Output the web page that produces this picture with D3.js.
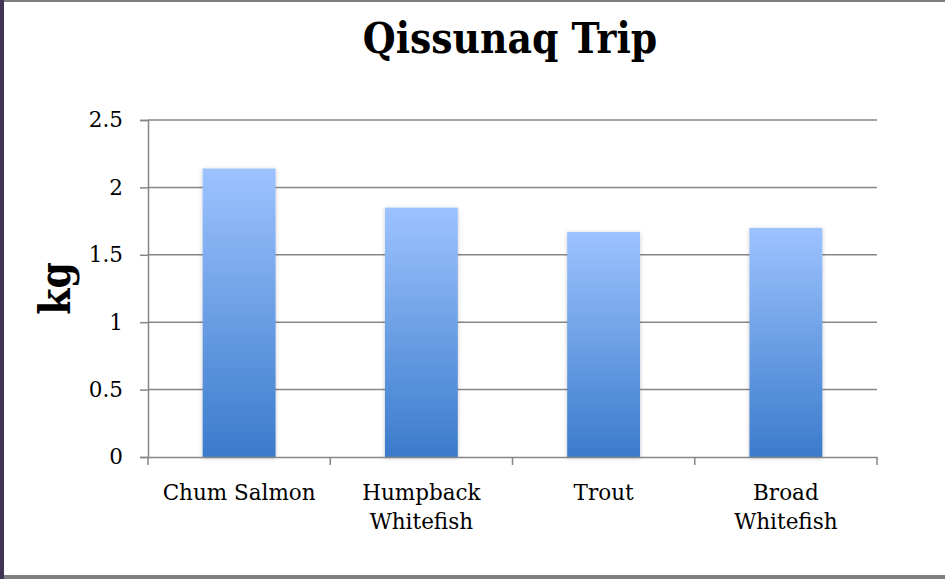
<!DOCTYPE html>
<html>
<head>
<meta charset="utf-8">
<script src="https://cdn.jsdelivr.net/npm/d3@7"></script>
<style>
  html, body { margin: 0; padding: 0; background: #fff; }
  svg { display: block; }
</style>
</head>
<body>
<svg id="chart" width="945" height="579"></svg>
<script>
// chart data
const categories = ["Chum Salmon", "Humpback Whitefish", "Trout", "Broad Whitefish"];
const catLines = [["Chum Salmon"], ["Humpback", "Whitefish"], ["Trout"], ["Broad", "Whitefish"]];
const values = [2.14, 1.85, 1.67, 1.70];
const yTicks = [0, 0.5, 1, 1.5, 2, 2.5];

const W = 945, H = 579;
const margin = { top: 120, left: 148, right: 68, bottom: 121 };
const svg = d3.select("#chart");
const serif = "'DejaVu Serif', serif";

// frame
svg.append("rect").attr("x", 0).attr("y", 0).attr("width", W).attr("height", H).attr("fill", "#fff");
svg.append("rect").attr("x", 0).attr("y", 0).attr("width", W).attr("height", 2).attr("fill", "#7f7f7f");
svg.append("rect").attr("x", 0).attr("y", H - 4).attr("width", W).attr("height", 4).attr("fill", "#808080");
svg.append("rect").attr("x", 0).attr("y", 0).attr("width", 4).attr("height", H).attr("fill", "#403556");

const x = d3.scaleBand()
    .domain(categories)
    .range([margin.left, W - margin.right])
    .paddingInner(0.6)
    .paddingOuter(0.3);

const y = d3.scaleLinear()
    .domain([0, 2.5])
    .range([H - margin.bottom - 1, margin.top]);

// gradient + shadow for bars
const defs = svg.append("defs");
const grad = defs.append("linearGradient").attr("id", "barGrad")
    .attr("x1", 0).attr("y1", 0).attr("x2", 0).attr("y2", 1);
grad.append("stop").attr("offset", "0%").attr("stop-color", "#9dc3ff");
grad.append("stop").attr("offset", "100%").attr("stop-color", "#3b7bcb");
const shadow = defs.append("filter").attr("id", "shadow")
    .attr("x", "-20%").attr("y", "-10%").attr("width", "140%").attr("height", "120%");
shadow.append("feDropShadow").attr("dx", 0).attr("dy", 1).attr("stdDeviation", 2)
    .attr("flood-color", "#000").attr("flood-opacity", 0.22);

// gridlines
svg.append("g")
    .selectAll("line")
    .data(yTicks.filter(d => d > 0))
    .join("line")
    .attr("x1", margin.left).attr("x2", W - margin.right)
    .attr("y1", d => y(d)).attr("y2", d => y(d))
    .attr("stroke", "#868686").attr("stroke-width", 1.5);

// bars
svg.append("g")
    .selectAll("rect")
    .data(values)
    .join("rect")
    .attr("x", (d, i) => x(categories[i]))
    .attr("width", x.bandwidth())
    .attr("y", d => y(d))
    .attr("height", d => y(0) - y(d))
    .attr("fill", "url(#barGrad)")
    .attr("filter", "url(#shadow)");

// y axis
const yAxis = svg.append("g")
    .attr("transform", `translate(${margin.left},0)`)
    .call(d3.axisLeft(y).tickValues(yTicks).tickSize(8).tickPadding(17).tickFormat(d3.format("")));
yAxis.select(".domain").attr("stroke", "#868686").attr("stroke-width", 1.5);
yAxis.selectAll(".tick line").attr("stroke", "#868686").attr("stroke-width", 1.5);
yAxis.selectAll("text")
    .attr("font-family", serif)
    .attr("font-size", 21.5).attr("fill", "#000");

// x axis
const xAxis = svg.append("g")
    .attr("transform", `translate(0,${y(0)})`)
    .call(d3.axisBottom(x).tickSize(0).tickFormat(""));
xAxis.select(".domain").attr("stroke", "#868686").attr("stroke-width", 1.5);
const step = x.step();
const edges = d3.range(categories.length + 1).map(i => margin.left + i * step);
xAxis.selectAll("line.sep")
    .data(edges)
    .join("line")
    .attr("class", "sep")
    .attr("x1", d => d).attr("x2", d => d)
    .attr("y1", 0).attr("y2", 8)
    .attr("stroke", "#868686").attr("stroke-width", 1.5);

svg.append("g")
    .selectAll("text")
    .data(categories)
    .join("text")
    .attr("x", d => x(d) + x.bandwidth() / 2)
    .attr("y", 500)
    .attr("text-anchor", "middle")
    .attr("font-family", serif)
    .attr("font-size", 21.5)
    .attr("fill", "#000")
    .each(function(d, i) {
        const t = d3.select(this);
        catLines[i].forEach((ln, j) => {
            t.append("tspan").attr("x", x(d) + x.bandwidth() / 2).attr("dy", j === 0 ? 0 : 29).text(ln);
        });
    });

// title
svg.append("text")
    .attr("x", 510).attr("y", 53)
    .attr("text-anchor", "middle")
    .attr("font-family", "'DejaVu Serif Condensed', 'DejaVu Serif', serif")
    .attr("font-weight", "bold")
    .attr("font-size", 42)
    .attr("fill", "#000")
    .text("Qissunaq Trip");

// y label
svg.append("text")
    .attr("transform", `translate(70,${(y(0) + y(2.5)) / 2}) rotate(-90)`)
    .attr("text-anchor", "middle")
    .attr("font-family", "'DejaVu Serif Condensed', 'DejaVu Serif', serif")
    .attr("font-weight", "bold")
    .attr("font-size", 42)
    .attr("fill", "#000")
    .text("kg");
</script>
</body>
</html>
